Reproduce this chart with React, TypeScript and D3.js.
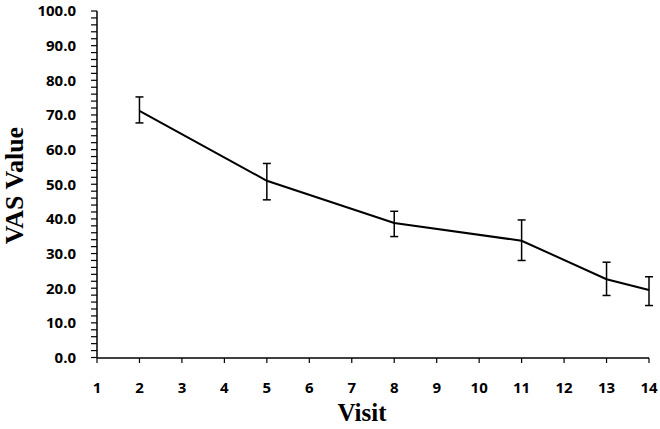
import React from "react";
import * as d3 from "d3";

// data
const visits = [2, 5, 8, 11, 13, 14];
const vasMean = [71.2, 51.0, 38.8, 33.7, 22.6, 19.5];
const vasHigh = [75.2, 56.0, 42.2, 39.7, 27.5, 23.3];
const vasLow = [67.7, 45.5, 34.9, 28.0, 17.9, 15.0];
const xTicks = d3.range(1, 15);
const yTicks = d3.range(0, 101, 10);
const yMinorTicks = d3.range(0, 101, 2);

const width = 660;
const height = 429;

export default function App() {
  const x = d3.scaleLinear().domain([1, 14]).range([97, 649]);
  const y = d3.scaleLinear().domain([0, 100]).range([357.5, 11]);

  const pts = visits.map((v, i) => [x(v), y(vasMean[i])] as [number, number]);
  const line = d3.line()(pts) || "";
  const cap = 4;

  return (
    <svg
      width={width}
      height={height}
      style={{ position: "absolute", left: 0, top: 0, background: "#fff" }}
    >
      {/* y axis */}
      <line x1={97} x2={97} y1={y(0)} y2={y(100)} stroke="#000" strokeWidth={1.5} />
      {yMinorTicks.map((t) => (
        <line key={"m" + t} x1={91} x2={97} y1={y(t)} y2={y(t)} stroke="#000" strokeWidth={1.2} />
      ))}
      {yTicks.map((t) => (
        <text
          key={"y" + t}
          x={76}
          y={y(t)}
          dy="0.36em"
          textAnchor="end"
          fontFamily="'Open Sans', sans-serif"
          fontWeight={700}
          fontSize={15}
          fill="#000"
        >
          {t.toFixed(1)}
        </text>
      ))}

      {/* x axis */}
      <line x1={x(1)} x2={x(14)} y1={358} y2={358} stroke="#000" strokeWidth={1.5} />
      {xTicks.map((t) => (
        <g key={"x" + t}>
          <line x1={x(t)} x2={x(t)} y1={358} y2={363} stroke="#000" strokeWidth={1.2} />
          <text
            x={x(t)}
            y={388}
            dy="0.36em"
            textAnchor="middle"
            fontFamily="'Open Sans', sans-serif"
            fontWeight={700}
            fontSize={15}
            fill="#000"
          >
            {t}
          </text>
        </g>
      ))}

      {/* error bars */}
      {visits.map((v, i) => (
        <g key={"e" + v} stroke="#000" strokeWidth={1.5}>
          <line x1={x(v)} x2={x(v)} y1={y(vasHigh[i])} y2={y(vasLow[i])} />
          <line x1={x(v) - cap} x2={x(v) + cap} y1={y(vasHigh[i])} y2={y(vasHigh[i])} />
          <line x1={x(v) - cap} x2={x(v) + cap} y1={y(vasLow[i])} y2={y(vasLow[i])} />
        </g>
      ))}

      {/* mean line */}
      <path d={line} fill="none" stroke="#000" strokeWidth={2} />

      {/* axis titles */}
      <text
        transform="translate(23, 185.5) rotate(-90)"
        textAnchor="middle"
        fontFamily="'Liberation Serif', serif"
        fontWeight="bold"
        fontSize={26}
        fill="#000"
      >
        VAS Value
      </text>
      <text
        x={362}
        y={421}
        textAnchor="middle"
        fontFamily="'Liberation Serif', serif"
        fontWeight="bold"
        fontSize={25}
        fill="#000"
      >
        Visit
      </text>
    </svg>
  );
}
